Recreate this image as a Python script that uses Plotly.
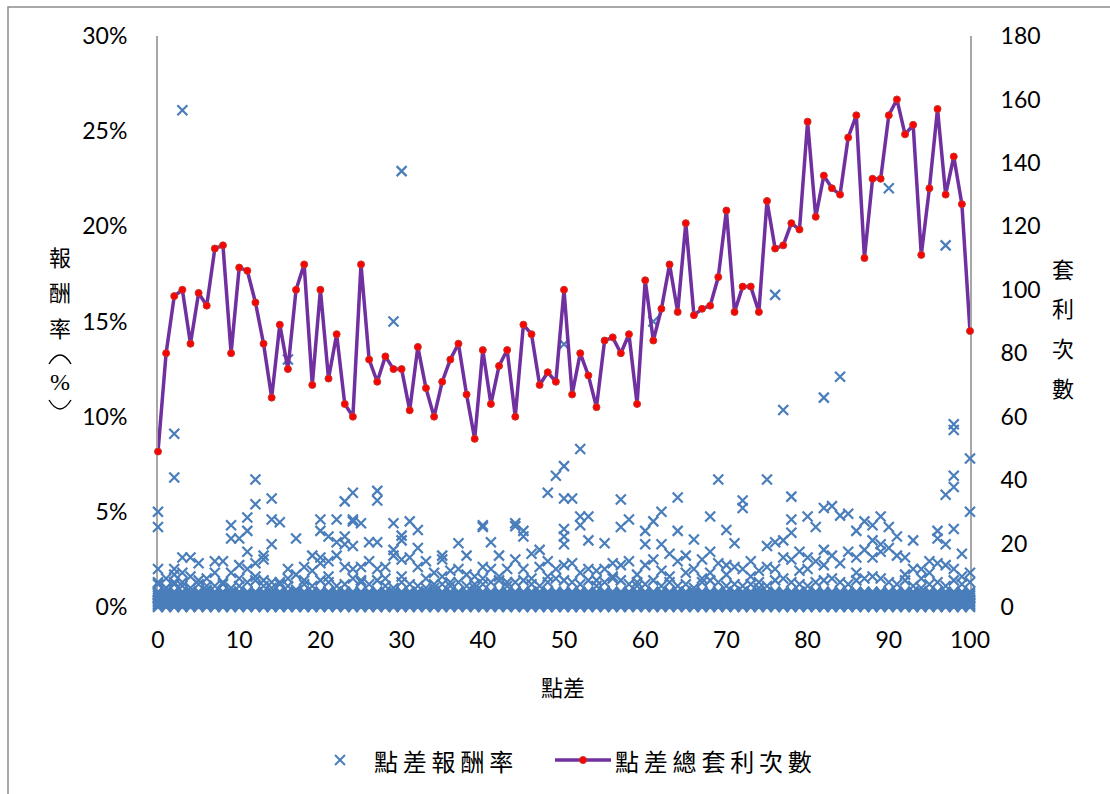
import plotly.graph_objects as go

# ---- data -------------------------------------------------------------
spreads = list(range(0, 101))

# total arbitrage count for each spread (right axis)
arb_counts = [
    49, 80, 98, 100, 83, 99, 95, 113, 114, 80,
    107, 106, 96, 83, 66, 89, 75, 100, 108, 70,
    100, 72, 86, 64, 60, 108, 78, 71, 79, 75,
    75, 62, 82, 69, 60, 71, 78, 83, 67, 53,
    81, 64, 76, 81, 60, 89, 86, 70, 74, 71,
    100, 67, 80, 73, 63, 84, 85, 80, 86, 64,
    103, 84, 94, 108, 93, 121, 92, 94, 95, 104,
    125, 93, 101, 101, 93, 128, 113, 114, 121, 119,
    153, 123, 136, 132, 130, 148, 155, 110, 135, 135,
    155, 160, 149, 152, 111, 132, 157, 130, 142, 127,
    87,
]

# dense low-return cluster present at every spread (%)
cluster_levels = [0.0, 0.08, 0.16, 0.24, 0.32, 0.4, 0.5, 0.6, 0.7, 0.8]

# upper edge of the dense cluster for each spread (%)
cluster_top = [
    1.3, 1.0, 1.2, 1.1, 1.0, 1.2, 0.9, 1.1, 1.2, 1.0,
    1.1, 1.3, 1.4, 1.1, 1.0, 1.2, 1.1, 0.9, 1.2, 1.1,
    1.4, 1.3, 1.1, 1.2, 1.5, 1.3, 1.2, 1.4, 1.1, 1.0,
    1.3, 1.2, 1.1, 1.0, 1.0, 1.2, 1.1, 1.3, 1.1, 1.0,
    1.2, 1.3, 1.4, 1.1, 1.3, 1.4, 1.2, 1.1, 1.3, 1.5,
    1.4, 1.3, 1.2, 1.4, 1.1, 1.3, 1.5, 1.4, 1.2, 1.1,
    1.2, 1.4, 1.1, 1.3, 1.1, 1.2, 1.0, 1.3, 1.4, 1.3,
    1.1, 1.2, 1.1, 1.2, 1.0, 1.1, 1.4, 1.5, 1.3, 1.2,
    1.1, 1.3, 1.4, 1.5, 1.3, 1.2, 1.4, 1.5, 1.6, 1.5,
    1.3, 1.2, 1.4, 1.1, 1.0, 1.2, 1.3, 1.1, 1.4, 1.2,
    1.3,
]

# scattered returns above the cluster: (spread, return %)
spread_returns = {
    0: [5.0, 4.2, 2.0, 1.2],
    1: [1.5, 1.0],
    2: [9.1, 6.8, 2.0, 1.7, 1.3],
    3: [26.1, 2.6, 1.8, 1.3],
    4: [2.6, 1.6],
    5: [2.3, 1.4],
    6: [1.5, 1.1],
    7: [2.4, 1.8],
    8: [2.4, 1.3],
    9: [4.3, 3.6, 1.8],
    10: [3.6, 2.2, 1.5],
    11: [4.7, 4.0, 2.9, 2.0],
    12: [6.7, 5.4, 2.3, 1.6],
    13: [2.7, 2.5, 1.4],
    14: [5.7, 4.6, 3.3, 1.3],
    15: [4.45, 1.3],
    16: [13.0, 2.0, 1.5],
    17: [3.6, 1.7],
    18: [2.1, 1.4],
    19: [2.7, 1.9],
    20: [4.6, 4.0, 2.6, 2.3],
    21: [3.7, 2.4, 1.6],
    22: [4.6, 3.4, 2.7],
    23: [5.55, 3.7, 3.3, 2.1],
    24: [6.0, 4.6, 4.5, 3.2, 2.0],
    25: [4.4, 2.1, 1.4],
    26: [3.4, 2.4],
    27: [6.1, 5.6, 3.4, 2.0],
    28: [2.1, 1.5],
    29: [15.0, 4.4, 3.0, 2.7],
    30: [22.9, 3.75, 3.5, 2.5, 1.6],
    31: [4.5, 2.6],
    32: [4.05, 3.1, 2.1],
    33: [2.4, 1.5],
    34: [1.8, 1.2],
    35: [2.7, 2.5, 1.6],
    36: [1.9, 1.3],
    37: [3.35, 2.0],
    38: [2.7, 1.7],
    39: [1.6, 1.2],
    40: [4.3, 4.2, 2.1, 1.5],
    41: [3.4, 2.0],
    42: [2.7, 1.6],
    43: [2.0, 1.3],
    44: [4.4, 4.25, 2.5],
    45: [4.0, 3.7, 2.0],
    46: [2.8, 1.5],
    47: [3.0, 2.1],
    48: [6.0, 2.4, 1.6],
    49: [6.9, 2.0],
    50: [13.8, 7.4, 5.7, 4.1, 3.7, 3.3, 2.2],
    51: [5.7, 2.3],
    52: [8.3, 4.75, 4.3, 1.8],
    53: [4.75, 3.5, 2.0],
    54: [1.9, 1.4],
    55: [3.35, 2.0],
    56: [2.3, 1.6],
    57: [5.65, 4.2, 2.2],
    58: [4.6, 2.4],
    59: [1.7, 1.3],
    60: [4.0, 3.3, 2.2],
    61: [15.0, 4.5, 2.5],
    62: [5.0, 3.3, 1.9],
    63: [2.8, 1.6],
    64: [5.75, 4.0, 2.4],
    65: [2.7, 1.8],
    66: [3.55, 2.0],
    67: [2.5, 1.5],
    68: [4.75, 2.9, 1.8],
    69: [6.7, 2.3],
    70: [4.05, 2.2, 1.7],
    71: [3.35, 2.1],
    72: [5.6, 5.2, 2.0],
    73: [2.4, 1.6],
    74: [1.9, 1.3],
    75: [6.7, 3.2, 2.1],
    76: [16.4, 3.4, 2.0],
    77: [10.35, 3.5, 2.6],
    78: [5.8, 4.6, 3.9, 2.5],
    79: [2.9, 1.9],
    80: [4.75, 2.6, 2.0],
    81: [4.2, 2.4],
    82: [11.0, 5.2, 3.0, 2.2],
    83: [5.3, 2.7],
    84: [12.1, 4.8, 2.3],
    85: [4.9, 2.9],
    86: [4.0, 2.6, 1.8],
    87: [4.5, 3.0],
    88: [4.3, 3.5, 2.6],
    89: [4.75, 3.3, 2.9],
    90: [22.0, 4.2, 3.1],
    91: [3.7, 2.7],
    92: [2.6, 1.7],
    93: [3.5, 2.0],
    94: [2.0, 1.5],
    95: [2.4, 1.8],
    96: [4.0, 3.6, 2.3],
    97: [19.0, 5.9, 3.3, 2.2],
    98: [9.6, 9.3, 6.9, 6.3, 4.1, 2.0],
    99: [2.8, 1.6],
    100: [7.8, 5.0, 1.8],
}

left_ticks = [0, 5, 10, 15, 20, 25, 30]
right_ticks = [0, 20, 40, 60, 80, 100, 120, 140, 160, 180]
x_ticks = [0, 10, 20, 30, 40, 50, 60, 70, 80, 90, 100]

# ---- assemble scatter points -----------------------------------------
ret_x, ret_y = [], []
for s, top in zip(spreads, cluster_top):
    for lv in cluster_levels:
        ret_x.append(s)
        ret_y.append(lv)
    ret_x.append(s)
    ret_y.append(top)
    for v in spread_returns.get(s, []):
        ret_x.append(s)
        ret_y.append(v)

BLUE = "#4A7EBB"
PURPLE = "#7030A0"
RED = "#FF0000"
FONT = "Lato, 'Noto Sans', sans-serif"
CJK = "'Noto Sans CJK TC', sans-serif"

fig = go.Figure()

fig.add_trace(go.Scatter(
    x=ret_x, y=ret_y, mode="markers", name="點差報酬率",
    marker=dict(symbol="x-thin", size=10, color=BLUE,
                line=dict(color=BLUE, width=2.2)),
    cliponaxis=False, yaxis="y", showlegend=False,
))

fig.add_trace(go.Scatter(
    x=spreads, y=arb_counts, mode="lines+markers", name="點差總套利次數",
    line=dict(color=PURPLE, width=3.5),
    marker=dict(symbol="circle", size=7, color=RED,
                line=dict(color="#C0392B", width=1)),
    cliponaxis=False, yaxis="y2", showlegend=False,
))

# plot-area pixel frame used for placing titles / legend
L, R, T, B = 158, 970, 36, 607


def px(xp):
    return (xp - L) / (R - L)


def py(yp):
    return (B - yp) / (B - T)


fig.update_layout(
    width=1110, height=794,
    margin=dict(l=L, r=1110 - R, t=T, b=794 - B),
    paper_bgcolor="white", plot_bgcolor="white",
    font=dict(family=FONT, size=23, color="#000000"),
    xaxis=dict(
        range=[0, 100], tickvals=x_ticks, showgrid=False, zeroline=False,
        showline=True, linecolor="#A6A6A6", linewidth=1.5,
        ticks="", ticklabelstandoff=12, layer="below traces",
        tickfont=dict(family=FONT, size=23),
    ),
    yaxis=dict(
        range=[0, 30], tickvals=left_ticks,
        ticktext=[f"{v}%" for v in left_ticks],
        showgrid=False, zeroline=False,
        showline=True, linecolor="#A6A6A6", linewidth=2,
        ticks="", ticklabelstandoff=24, layer="below traces",
        tickfont=dict(family=FONT, size=23),
    ),
    yaxis2=dict(
        range=[0, 180], tickvals=right_ticks, overlaying="y", side="right",
        showgrid=False, zeroline=False,
        showline=True, linecolor="#A6A6A6", linewidth=2,
        ticks="", ticklabelstandoff=24, layer="below traces",
        tickfont=dict(family=FONT, size=23),
    ),
    showlegend=False,
)

annotations = []

# left axis title, stacked vertically (brackets drawn as arcs below)
left_title = [("報", 256, 22, CJK), ("酬", 291, 22, CJK),
              ("率", 327, 22, CJK), ("%", 382, 24, "Liberation Serif")]
for ch, yp, fs, fam in left_title:
    annotations.append(dict(
        x=px(60), y=py(yp), xref="paper", yref="paper", text=ch,
        showarrow=False, xanchor="center", yanchor="middle",
        font=dict(family=fam, size=fs, color="#000000")))

# right axis title, stacked vertically
for ch, yp in zip(["套", "利", "次", "數"], [268, 307, 347, 387]):
    annotations.append(dict(
        x=px(1063), y=py(yp), xref="paper", yref="paper", text=ch,
        showarrow=False, xanchor="center", yanchor="middle",
        font=dict(family=CJK, size=22, color="#000000")))

# x axis title
annotations.append(dict(
    x=px(563), y=py(686), xref="paper", yref="paper", text="點差",
    showarrow=False, xanchor="center", yanchor="middle",
    font=dict(family=CJK, size=22, color="#000000")))

# legend texts
sp = "\u2009"
annotations.append(dict(
    x=px(372), y=py(760), xref="paper", yref="paper",
    text=sp.join("點差報酬率"), showarrow=False,
    xanchor="left", yanchor="middle",
    font=dict(family=CJK, size=24, color="#000000")))
annotations.append(dict(
    x=px(613), y=py(760), xref="paper", yref="paper",
    text=sp.join("點差總套利次數"), showarrow=False,
    xanchor="left", yanchor="middle",
    font=dict(family=CJK, size=24, color="#000000")))

fig.update_layout(annotations=annotations)


def arc(x0, y0, xc, yc, x1, y1):
    return (f"M {px(x0)},{py(y0)} Q {px(xc)},{py(yc)} {px(x1)},{py(y1)}")


shapes = [
    # chart-area border (top and left edges visible)
    dict(type="rect", xref="paper", yref="paper",
         x0=px(8), y0=py(900), x1=px(1300), y1=py(7),
         line=dict(color="#8C8C8C", width=1.5), fillcolor="rgba(0,0,0,0)",
         layer="below"),
    # vertical-form brackets of the left title
    dict(type="path", xref="paper", yref="paper",
         path=arc(49, 364, 60, 346, 71, 364),
         line=dict(color="#000000", width=1.4)),
    dict(type="path", xref="paper", yref="paper",
         path=arc(49, 400, 60, 418, 71, 400),
         line=dict(color="#000000", width=1.4)),
    # legend: cross symbol
    dict(type="line", xref="paper", yref="paper",
         x0=px(335), y0=py(755), x1=px(345), y1=py(765),
         line=dict(color=BLUE, width=2)),
    dict(type="line", xref="paper", yref="paper",
         x0=px(335), y0=py(765), x1=px(345), y1=py(755),
         line=dict(color=BLUE, width=2)),
    # legend: line with dot
    dict(type="line", xref="paper", yref="paper",
         x0=px(555), y0=py(760), x1=px(611), y1=py(760),
         line=dict(color=PURPLE, width=3.5)),
    dict(type="circle", xref="paper", yref="paper",
         x0=px(579.5), y0=py(763.5), x1=px(586.5), y1=py(756.5),
         line=dict(color="#C0392B", width=1), fillcolor=RED),
]
fig.update_layout(shapes=shapes)

fig.write_html("out.html")
